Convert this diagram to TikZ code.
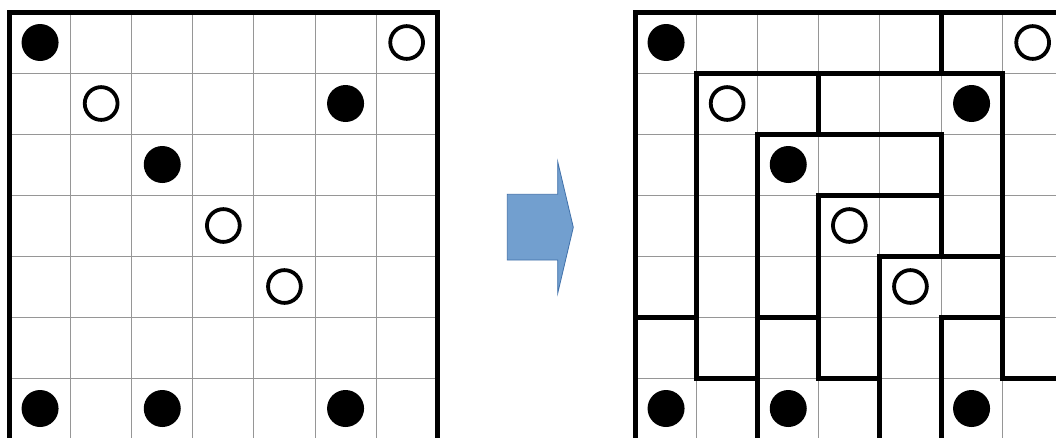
\documentclass[tikz,border=0pt]{standalone}
\usepackage{tikz}
\definecolor{gridgray}{RGB}{150,150,150}
\definecolor{arrowfill}{RGB}{114,159,207}
\definecolor{arrowdraw}{RGB}{65,113,170}
\tikzset{
  thinline/.style={draw=gridgray, line width=1pt},
  thickline/.style={draw=black, line width=5pt, line cap=rect, line join=miter},
  blackdot/.style={fill=black},
  whitedot/.style={draw=black, fill=white, line width=3.8pt},
  bigarrow/.style={fill=arrowfill, draw=arrowdraw, line width=0.8pt, line join=miter}
}
\begin{document}
\begin{tikzpicture}[x=1pt,y=-1pt]
\useasboundingbox (0,0) rectangle (1056,437);
\fill[white] (0,0) rectangle (1056,437);
\clip (0,0) rectangle (1056,437);

% ---------- left grid ----------
\begin{scope}[shift={(9.5pt,-12pt)}, x=61.1pt, y=-61pt]
  \foreach \i in {1,...,6} \draw[thinline] (\i,0) -- (\i,7.5);
  \foreach \j in {1,...,7} \draw[thinline] (0,\j) -- (7,\j);
  \draw[thickline] (0,7.5) -- (0,0) -- (7,0) -- (7,7.5);
  % dots
  \foreach \c/\r in {0/0, 5/1, 2/2, 0/6, 2/6, 5/6}
    \fill[blackdot] (\c+0.5,\r+0.5) circle[radius=18.5pt];
  \foreach \c/\r in {6/0, 1/1, 3/3, 4/4}
    \draw[whitedot] (\c+0.5,\r+0.5) circle[radius=16.4pt];
\end{scope}

% ---------- arrow ----------
\draw[bigarrow] (507.3,194.3) -- (557.7,194.3) -- (557.7,161.7) -- (573.3,227.3)
  -- (557.7,293.3) -- (557.7,260) -- (507.3,260) -- cycle;

% ---------- right grid ----------
\begin{scope}[shift={(635.5pt,-12pt)}, x=61.1pt, y=-61pt]
  \foreach \i in {1,...,7} \draw[thinline] (\i,0) -- (\i,7.5);
  \foreach \j in {1,...,7} \draw[thinline] (0,\j) -- (7.5,\j);
  \draw[thickline] (7.5,0) -- (0,0) -- (0,7.5);
  \draw[thickline] (5,0) -- (5,1);
  \draw[thickline] (2,6) -- (1,6) -- (1,1) -- (6,1) -- (6,6) -- (7.5,6);
  \draw[thickline] (3,1) -- (3,2);
  \draw[thickline] (2,7.5) -- (2,2) -- (5,2) -- (5,4);
  \draw[thickline] (4,7.5) -- (4,4) -- (6,4);
  \draw[thickline] (4,6) -- (3,6) -- (3,3) -- (5,3);
  \draw[thickline] (0,5) -- (1,5);
  \draw[thickline] (2,5) -- (3,5);
  \draw[thickline] (5,7.5) -- (5,5) -- (6,5);
  % dots
  \foreach \c/\r in {0/0, 5/1, 2/2, 0/6, 2/6, 5/6}
    \fill[blackdot] (\c+0.5,\r+0.5) circle[radius=18.5pt];
  \foreach \c/\r in {6/0, 1/1, 3/3, 4/4}
    \draw[whitedot] (\c+0.5,\r+0.5) circle[radius=16.4pt];
\end{scope}
\end{tikzpicture}
\end{document}
